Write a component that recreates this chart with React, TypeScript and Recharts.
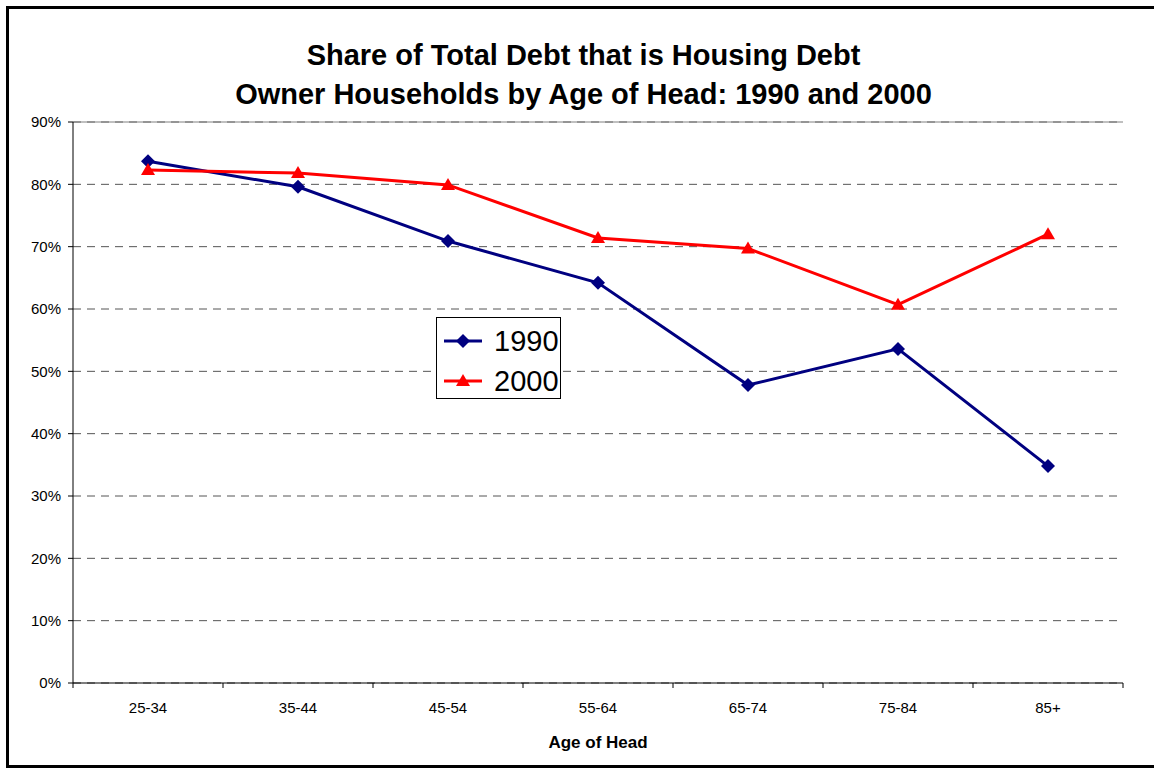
import { CartesianGrid, Line, LineChart, ReferenceLine, XAxis, YAxis } from 'recharts'

const ageGroups = ['25-34', '35-44', '45-54', '55-64', '65-74', '75-84', '85+']
const share1990 = [0.837, 0.796, 0.709, 0.642, 0.478, 0.536, 0.348]
const share2000 = [0.823, 0.818, 0.799, 0.714, 0.697, 0.607, 0.72]
const yTicks = [0, 0.1, 0.2, 0.3, 0.4, 0.5, 0.6, 0.7, 0.8, 0.9]

const data = ageGroups.map((age, i) => ({ age, y1990: share1990[i], y2000: share2000[i] }))

const W = 1154
const H = 771
const PLOT_LEFT = 73
const PLOT_RIGHT = 1123
const HALF_BAND = (PLOT_RIGHT - PLOT_LEFT) / ageGroups.length / 2
const FONT = 'Arial, "Liberation Sans", sans-serif'

function Diamond({ cx, cy }: any) {
  if (cx == null || cy == null) return null
  const r = 7
  return <path d={`M${cx},${cy - r}L${cx + r},${cy}L${cx},${cy + r}L${cx - r},${cy}Z`} fill="#000080" />
}

function Triangle({ cx, cy }: any) {
  if (cx == null || cy == null) return null
  const r = 7
  return <path d={`M${cx},${cy - r}L${cx + r},${cy + 5}L${cx - r},${cy + 5}Z`} fill="#FF0000" />
}

function AgeTick({ x, y, payload, index }: any) {
  const axisY = y - 5
  const last = index === ageGroups.length - 1
  return (
    <g>
      <line x1={x - HALF_BAND} x2={x - HALF_BAND} y1={axisY} y2={axisY + 5} stroke="#000" />
      {last && <line x1={x + HALF_BAND} x2={x + HALF_BAND} y1={axisY} y2={axisY + 5} stroke="#000" />}
      <text x={x} y={axisY + 30} textAnchor="middle" fontSize={15} fontFamily={FONT} fill="#000">
        {payload.value}
      </text>
    </g>
  )
}

function LegendBox() {
  const rows = [
    { name: '1990', color: '#000080', shape: 'diamond' },
    { name: '2000', color: '#FF0000', shape: 'triangle' },
  ]
  return (
    <div
      style={{
        position: 'absolute',
        left: 436,
        top: 317,
        width: 125,
        height: 82,
        border: '1px solid #000',
        background: '#fff',
        boxSizing: 'border-box',
        paddingTop: 3,
      }}
    >
      {rows.map((r) => (
        <div key={r.name} style={{ display: 'flex', alignItems: 'center', height: 40 }}>
          <svg width={50} height={20} style={{ marginLeft: 7 }}>
            <line x1={0} x2={38} y1={10} y2={10} stroke={r.color} strokeWidth={3} />
            {r.shape === 'diamond' ? (
              <path d="M19,3L26,10L19,17L12,10Z" fill={r.color} />
            ) : (
              <path d="M19,3L26,15L12,15Z" fill={r.color} />
            )}
          </svg>
          <span style={{ fontFamily: FONT, fontSize: 29, color: '#000', lineHeight: 1, marginLeft: 0 }}>{r.name}</span>
        </div>
      ))}
    </div>
  )
}

export default function App() {
  return (
    <div style={{ position: 'absolute', left: 0, top: 0, width: W, height: H, background: '#fff', overflow: 'hidden' }}>
      <div
        style={{
          position: 'absolute',
          left: 6,
          top: 6,
          width: W,
          height: 762,
          borderTop: '3px solid #000',
          borderLeft: '3px solid #000',
          borderBottom: '3px solid #000',
          boxSizing: 'border-box',
        }}
      />
      <div
        style={{
          position: 'absolute',
          left: 0,
          width: 1167,
          top: 36,
          textAlign: 'center',
          fontFamily: FONT,
          fontWeight: 'bold',
          fontSize: 29,
          lineHeight: '39px',
          color: '#000',
        }}
      >
        <div>Share of Total Debt that is Housing Debt</div>
        <div>Owner Households by Age of Head: 1990 and 2000</div>
      </div>
      <div style={{ position: 'absolute', left: 0, top: 0 }}>
        <LineChart width={W} height={H} data={data} margin={{ top: 122, right: 31, bottom: 0, left: 8 }}>
          <CartesianGrid horizontal vertical={false} stroke="#555" strokeDasharray="8 6" />
          <XAxis
            dataKey="age"
            height={88}
            stroke="#000"
            padding={{ left: HALF_BAND, right: HALF_BAND }}
            tickLine={false}
            tickSize={5}
            tickMargin={0}
            tick={<AgeTick />}
            interval={0}
            label={{ value: 'Age of Head', position: 'insideBottom', offset: 23, fontSize: 17, fontWeight: 'bold', fontFamily: FONT, fill: '#000' }}
          />
          <YAxis
            width={65}
            domain={[0, 0.9]}
            ticks={yTicks}
            stroke="#000"
            tickSize={5}
            tickMargin={7}
            tickFormatter={(v: number) => `${Math.round(v * 100)}%`}
            tick={{ fontSize: 15, fontFamily: FONT, fill: '#000' }}
          />
          <YAxis yAxisId="r" orientation="right" width={0} tick={false} stroke="#808080" domain={[0, 0.9]} />
          <ReferenceLine y={0.9} stroke="#808080" />
          <Line
            dataKey="y1990"
            stroke="#000080"
            strokeWidth={3}
            dot={<Diamond />}
            activeDot={false}
            isAnimationActive={false}
          />
          <Line
            dataKey="y2000"
            stroke="#FF0000"
            strokeWidth={3}
            dot={<Triangle />}
            activeDot={false}
            isAnimationActive={false}
          />
        </LineChart>
      </div>
      <LegendBox />
    </div>
  )
}
